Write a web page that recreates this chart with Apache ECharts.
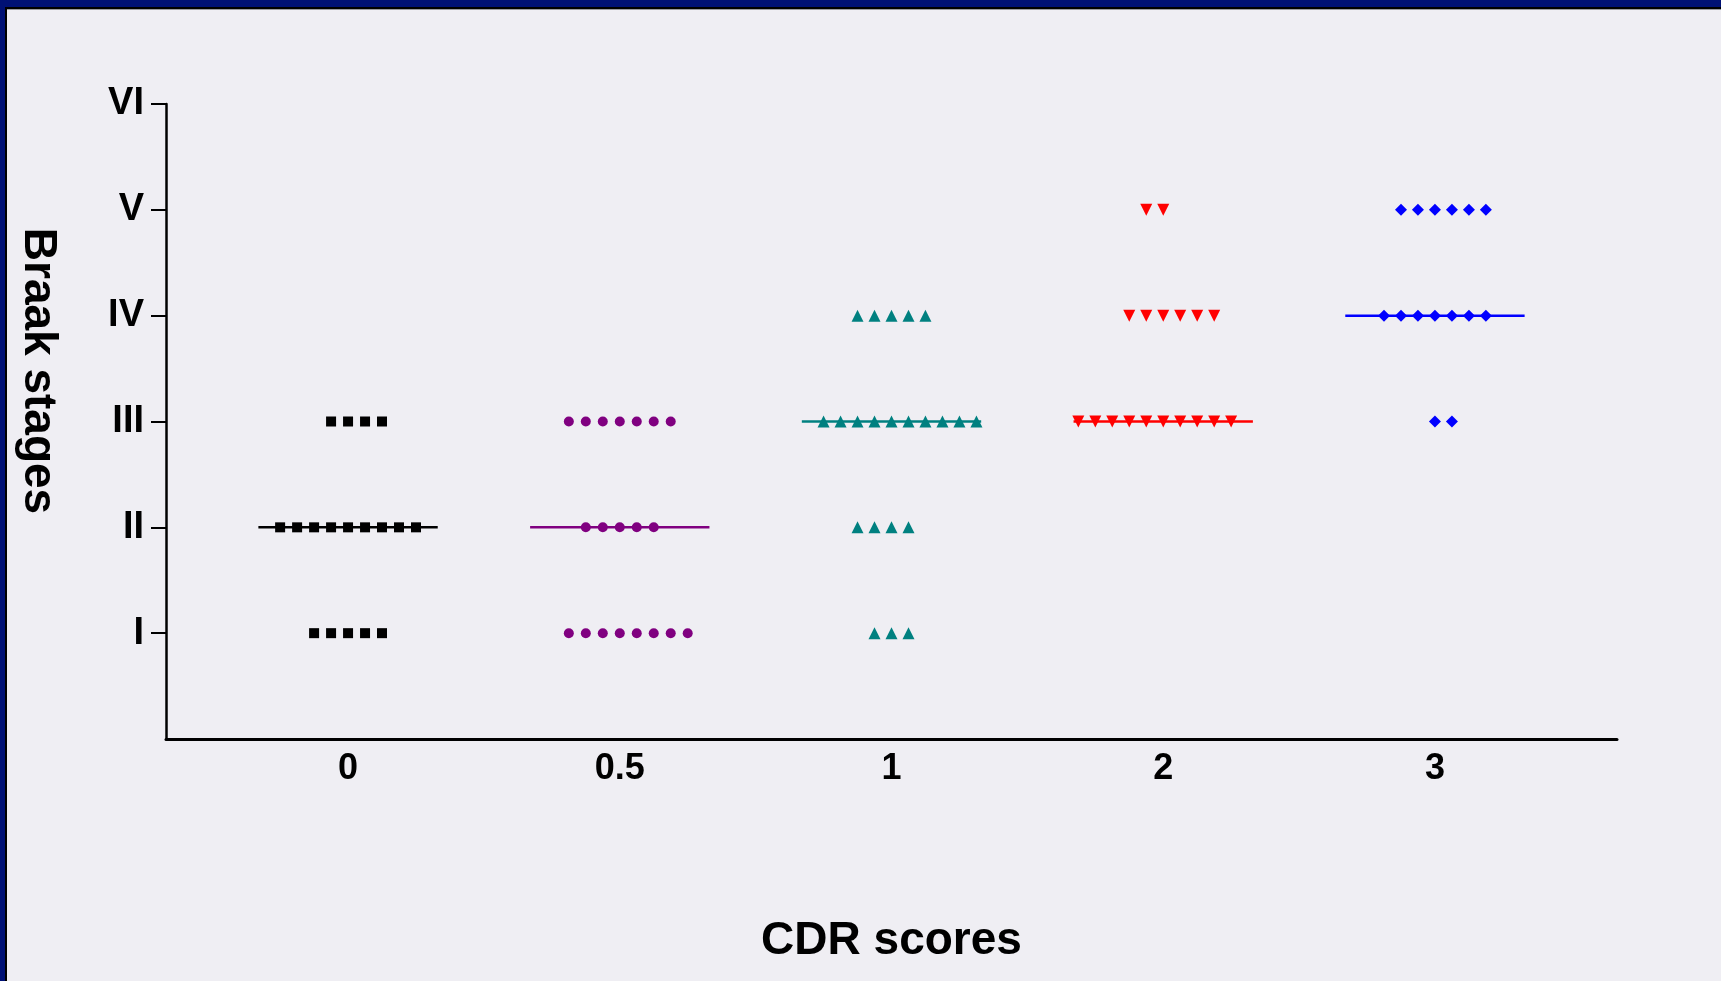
<!DOCTYPE html>
<html>
<head>
<meta charset="utf-8">
<script src="https://cdn.jsdelivr.net/npm/echarts@6/dist/echarts.min.js"></script>
<style>
  html, body { margin: 0; padding: 0; background: #efeef3; }
  #wrap { position: relative; width: 1721px; height: 981px; overflow: hidden; background: #efeef3; }
  #chart { position: absolute; left: 0; top: 0; width: 1721px; height: 981px; }
  .bTop { position: absolute; left: 0; top: 0; width: 1721px; height: 7px; background: #001175; }
  .bTop2 { position: absolute; left: 0; top: 7px; width: 1721px; height: 2px; background: #000000; }
  .bTop3 { position: absolute; left: 7px; top: 9px; width: 1714px; height: 1px; background: #9a9aa0; }
  .bLeft { position: absolute; left: 0; top: 0; width: 5px; height: 981px; background: #001175; }
  .bLeft2 { position: absolute; left: 5px; top: 7px; width: 2px; height: 974px; background: #000000; }
</style>
</head>
<body>
<div id="wrap">
  <div id="chart"></div>
  <div class="bTop"></div><div class="bTop2"></div><div class="bTop3"></div>
  <div class="bLeft"></div><div class="bLeft2"></div>
</div>
<script>
// ---- data ----
const cdrGroups = ['0', '0.5', '1', '2', '3'];
const stageNames = ['I', 'II', 'III', 'IV', 'V', 'VI'];
// number of cases at Braak stage I..VI for each CDR group
const countsCdr0  = [5, 9, 4, 0, 0, 0];
const countsCdr05 = [8, 5, 7, 0, 0, 0];
const countsCdr1  = [3, 4, 10, 5, 0, 0];
const countsCdr2  = [0, 0, 10, 6, 2, 0];
const countsCdr3  = [0, 0, 2, 7, 6, 0];
// median Braak stage per CDR group
const medianStage = [2, 2, 3, 3, 4];

// ---- layout of the column scatter (first jitter slot per stage) ----
const jitterStart = [
  [-2, -4, -1, 0, 0, 0],
  [-3, -2, -3, 0, 0, 0],
  [-1, -2, -4, -2, 0, 0],
  [0, 0, -5, -2, -1, 0],
  [0, 0, 0, -3, -2, 0]
];
const jitterStep = 0.0625;
const medianHalf = 0.33;

const groupCounts = [countsCdr0, countsCdr05, countsCdr1, countsCdr2, countsCdr3];
const colors = ['#000000', '#800080', '#008080', '#ff0000', '#0000ff'];
const symbols = ['rect', 'circle', 'triangle', 'triangle', 'diamond'];
const symbolSizes = [10, 10, 12, 12, 12];
const symbolRot = [0, 0, 0, 180, 0];

const FONT = '"Liberation Sans", Arial, Helvetica, sans-serif';

const series = [];
groupCounts.forEach((counts, g) => {
  const m = medianStage[g];
  series.push({
    type: 'line',
    data: [[g - medianHalf, m], [g + medianHalf, m]],
    symbol: 'none',
    lineStyle: { color: colors[g], width: 2.5 },
    silent: true,
    z: 2
  });
});
groupCounts.forEach((counts, g) => {
  const pts = [];
  counts.forEach((n, si) => {
    for (let i = 0; i < n; i++) {
      pts.push([g + (jitterStart[g][si] + i) * jitterStep, si + 1]);
    }
  });
  series.push({
    type: 'scatter',
    name: 'CDR ' + cdrGroups[g],
    data: pts,
    symbol: symbols[g],
    symbolSize: symbolSizes[g],
    symbolRotate: symbolRot[g],
    itemStyle: { color: colors[g], opacity: 1 },
    z: 3
  });
});

const chart = echarts.init(document.getElementById('chart'), null, { renderer: 'canvas' });
chart.setOption({
  backgroundColor: '#efeef3',
  animation: false,
  grid: { left: 166, right: 104, top: 104, bottom: 242, containLabel: false },
  xAxis: {
    type: 'value',
    min: -0.67,
    max: 4.67,
    splitLine: { show: false },
    axisLine: { show: true, onZero: false, lineStyle: { color: '#000', width: 3 } },
    axisTick: { show: false },
    axisLabel: {
      customValues: [0, 1, 2, 3, 4],
      formatter: v => cdrGroups[Math.round(v)],
      fontFamily: FONT, fontWeight: 'bold', fontSize: 36, color: '#000', margin: 12
    },
    name: 'CDR scores',
    nameLocation: 'middle',
    nameGap: 179,
    nameTextStyle: { fontFamily: FONT, fontWeight: 'bold', fontSize: 46, color: '#000' }
  },
  yAxis: {
    type: 'value',
    min: 0,
    max: 6,
    splitLine: { show: false },
    axisLine: { show: true, onZero: false, lineStyle: { color: '#000', width: 2.5 } },
    axisTick: { show: true, customValues: [1, 2, 3, 4, 5, 6], length: 15, lineStyle: { color: '#000', width: 2 } },
    axisLabel: {
      customValues: [1, 2, 3, 4, 5, 6],
      formatter: v => stageNames[Math.round(v) - 1],
      fontFamily: FONT, fontWeight: 'bold', fontSize: 38, color: '#000', margin: 22
    }
  },
  graphic: [{
    type: 'text',
    x: 38,
    y: 371,
    rotation: -Math.PI / 2,
    style: {
      text: 'Braak stages',
      fontFamily: FONT, fontWeight: 'bold', fontSize: 46,
      fill: '#000', align: 'center', verticalAlign: 'middle'
    }
  }],
  series: series
});
</script>
</body>
</html>
